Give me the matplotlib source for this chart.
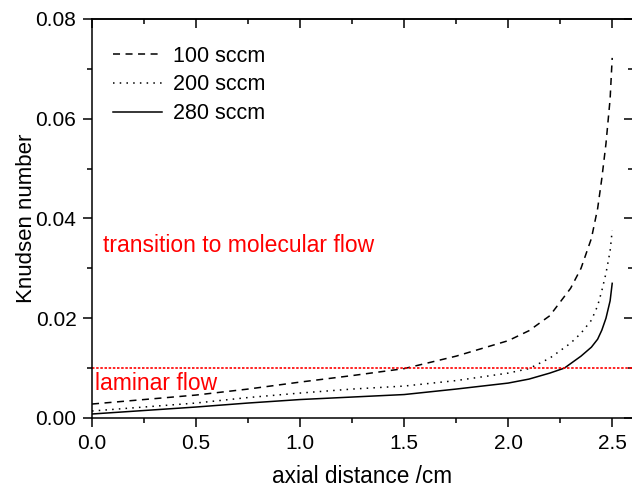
import matplotlib
matplotlib.use("Agg")
import matplotlib.pyplot as plt
from matplotlib.ticker import MultipleLocator, FormatStrFormatter, NullFormatter

plt.rcParams['font.family'] = ['Liberation Sans', 'DejaVu Sans']

# axial distance (cm) and Knudsen number
x_100 = [0.0, 0.25, 0.5, 0.75, 1.0, 1.25, 1.5, 1.75, 2.0, 2.1, 2.2, 2.3, 2.35, 2.4, 2.43, 2.45, 2.47, 2.49, 2.5]
kn_100 = [0.0028, 0.0037, 0.0046, 0.0058, 0.0072, 0.0085, 0.0099, 0.0124, 0.0155, 0.0175, 0.0205, 0.0260, 0.0300, 0.0360, 0.0420, 0.0480, 0.0550, 0.0640, 0.0722]

x_200 = [0.0, 0.25, 0.5, 0.75, 1.0, 1.25, 1.5, 1.75, 2.0, 2.1, 2.2, 2.3, 2.35, 2.4, 2.43, 2.45, 2.47, 2.49, 2.5]
kn_200 = [0.0014, 0.0022, 0.0030, 0.0041, 0.0050, 0.0058, 0.0064, 0.0075, 0.0090, 0.0099, 0.0120, 0.0150, 0.0170, 0.0196, 0.0225, 0.0255, 0.0290, 0.0335, 0.0376]

x_280 = [0.0, 0.25, 0.5, 0.75, 1.0, 1.25, 1.5, 1.75, 2.0, 2.1, 2.2, 2.27, 2.35, 2.4, 2.43, 2.45, 2.47, 2.49, 2.5]
kn_280 = [0.0008, 0.0015, 0.0022, 0.0030, 0.0037, 0.0042, 0.0047, 0.0058, 0.0070, 0.0078, 0.0090, 0.0100, 0.0124, 0.0142, 0.0158, 0.0176, 0.0200, 0.0235, 0.0270]

labels = ["100 sccm", "200 sccm", "280 sccm"]
laminar_limit = 0.01

fig = plt.figure(figsize=(6.32, 4.87), dpi=100)
# right spine sits just past the image edge, like the original crop
ax = fig.add_axes([0.1456, 0.1417, 0.856, 0.8193])

lw = 1.1
ax.plot(x_100, kn_100, color='black', lw=lw, dashes=(4.6, 3.6), label=labels[0])
ax.plot(x_200, kn_200, color='black', lw=lw, dashes=(1, 3.4), label=labels[1])
ax.plot(x_280, kn_280, color='black', lw=lw, label=labels[2])

ax.axhline(laminar_limit, color='red', lw=1.2, dashes=(1.5, 1.0))

ax.text(0.053, 0.0346, "transition to molecular flow", color='red', fontsize=16.5, va='center', ha='left')
ax.text(0.015, 0.0070, "laminar flow", color='red', fontsize=16.5, va='center', ha='left')

ax.set_xlim(0.0, 2.6)
ax.set_ylim(0.0, 0.08)

ax.xaxis.set_major_locator(MultipleLocator(0.5))
ax.xaxis.set_minor_locator(MultipleLocator(0.25))
ax.yaxis.set_major_locator(MultipleLocator(0.02))
ax.yaxis.set_minor_locator(MultipleLocator(0.01))
ax.xaxis.set_major_formatter(FormatStrFormatter('%.1f'))
ax.yaxis.set_major_formatter(FormatStrFormatter('%.2f'))

# outward ticks bottom/left
ax.tick_params(which='both', direction='out', width=1.1)
ax.tick_params(which='major', length=6.2, labelsize=15, pad=5)
ax.tick_params(which='minor', length=3.6)
for s in ax.spines.values():
    s.set_linewidth(1.1)

# inward mirror ticks top/right
top = ax.secondary_xaxis('top')
top.xaxis.set_major_locator(MultipleLocator(0.5))
top.xaxis.set_minor_locator(MultipleLocator(0.25))
top.xaxis.set_major_formatter(NullFormatter())
top.tick_params(which='both', direction='in', width=1.1)
top.tick_params(which='major', length=6.2)
top.tick_params(which='minor', length=3.6)
right = ax.secondary_yaxis('right')
right.yaxis.set_major_locator(MultipleLocator(0.02))
right.yaxis.set_minor_locator(MultipleLocator(0.01))
right.yaxis.set_major_formatter(NullFormatter())
right.tick_params(which='both', direction='in', width=1.1)
right.tick_params(which='major', length=6.2)
right.tick_params(which='minor', length=3.6)
for sa in (top, right):
    for s in sa.spines.values():
        s.set_linewidth(1.1)

ax.set_xlabel("axial distance /cm", fontsize=16.3, labelpad=9)
ax.set_ylabel("Knudsen number", fontsize=16, labelpad=-1)

ax.legend(loc='upper left', frameon=False, fontsize=15.5, handlelength=2.3,
          handletextpad=0.5, labelspacing=0.36, borderaxespad=0.0,
          bbox_to_anchor=(0.022, 0.955))

fig.savefig("out.png", dpi=100)
